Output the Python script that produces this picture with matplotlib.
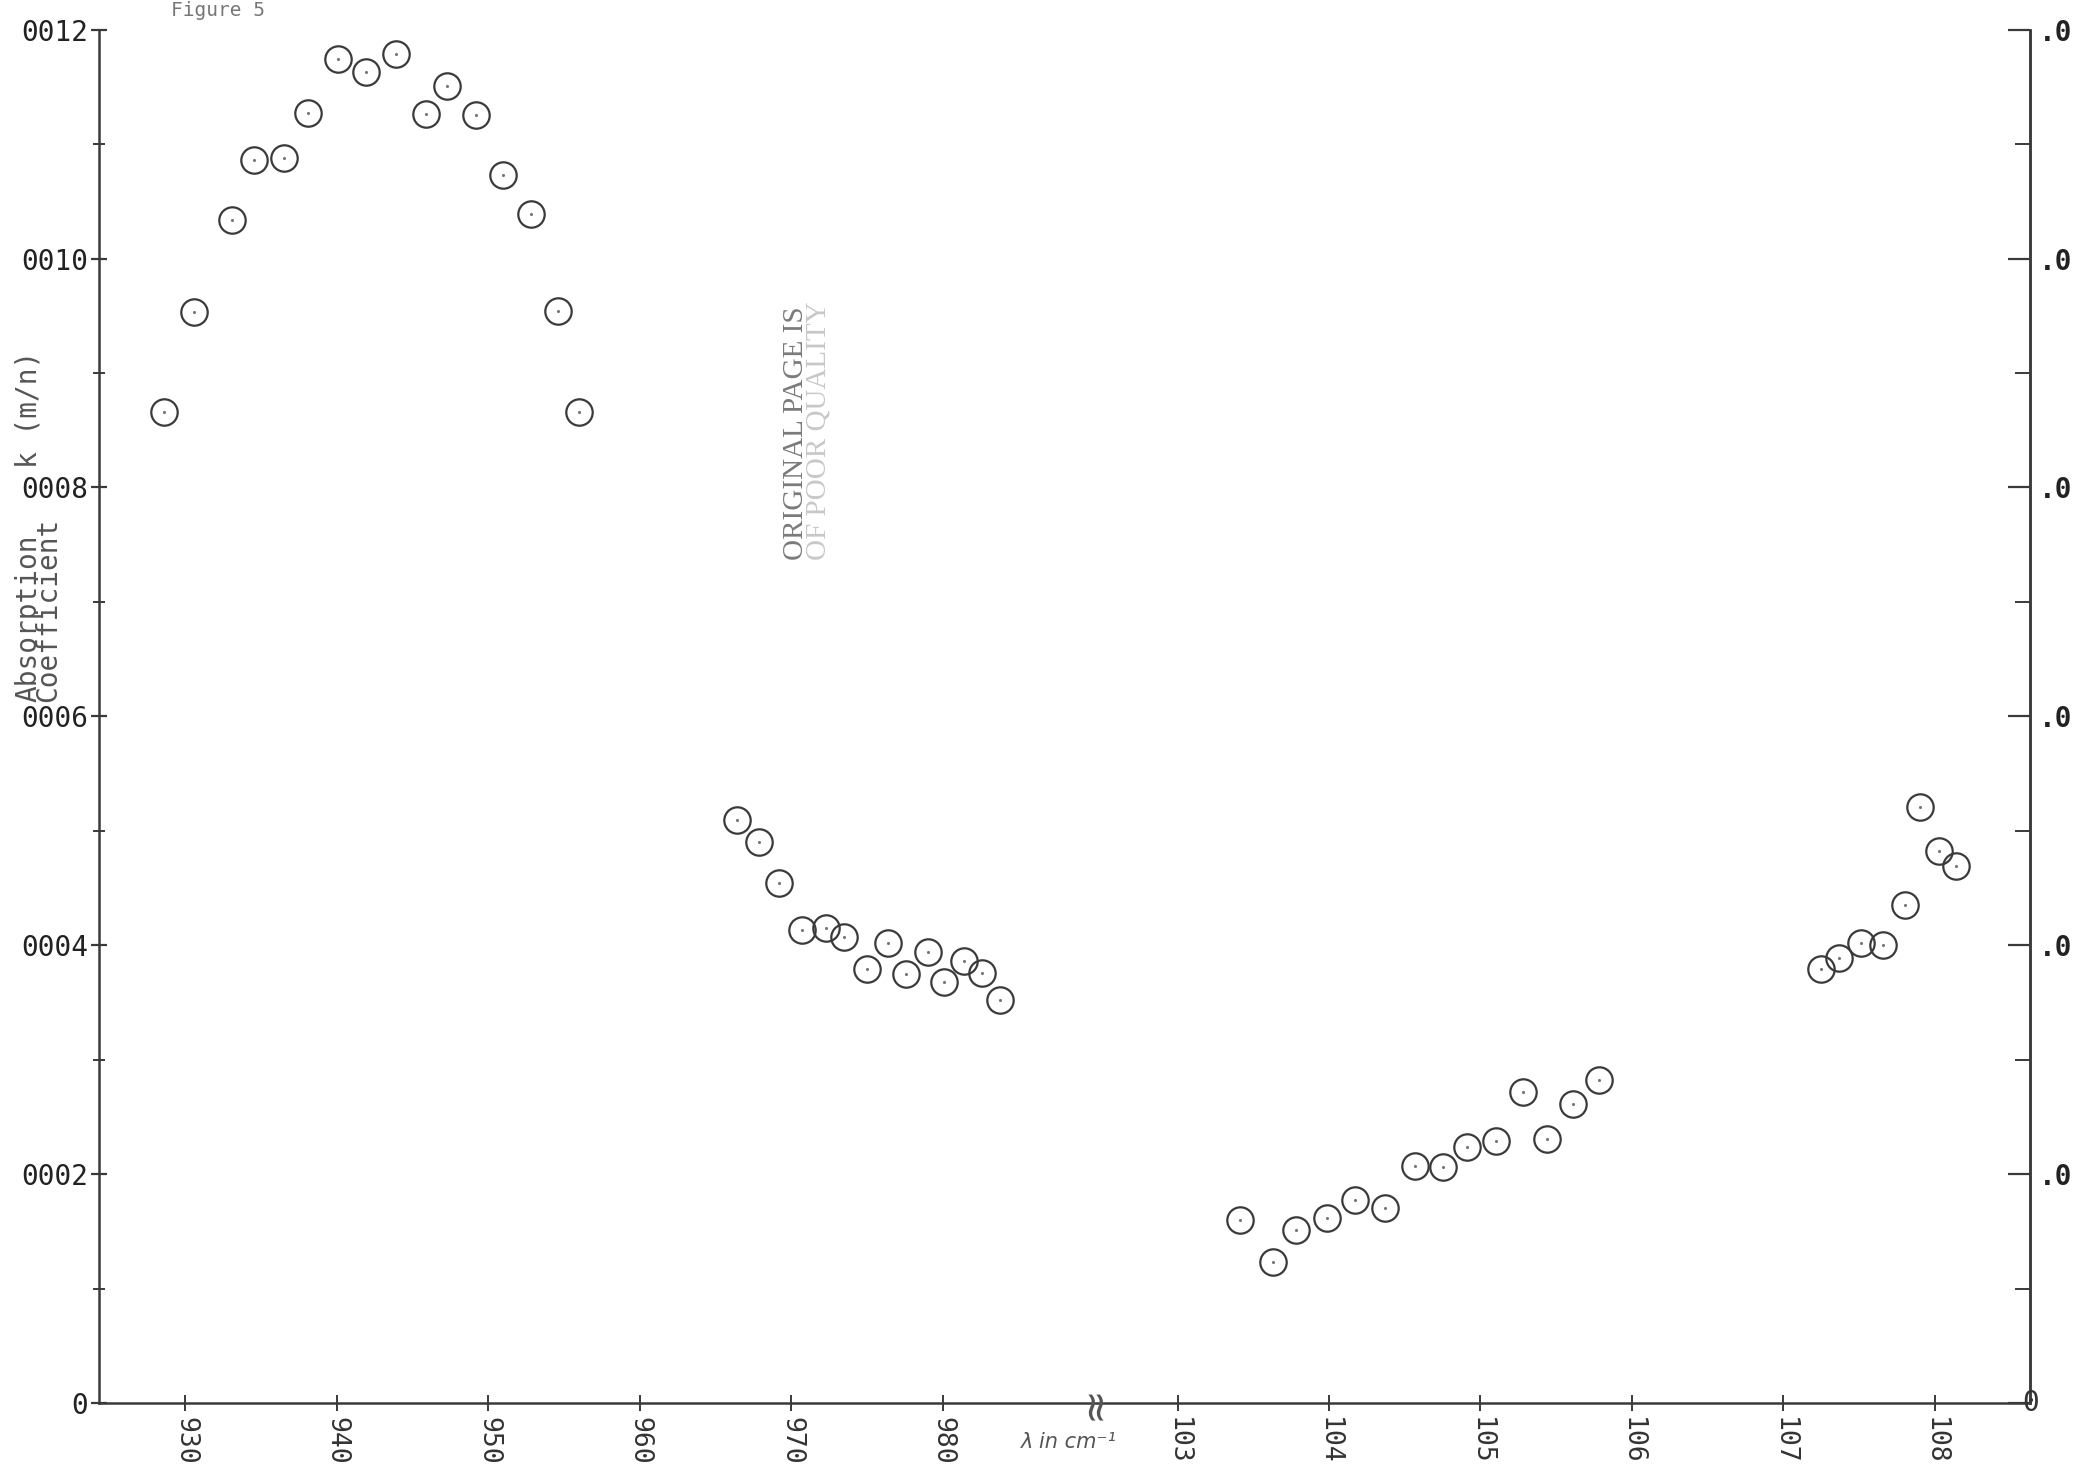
import numpy as np
import matplotlib
matplotlib.use('Agg')
import matplotlib.pyplot as plt

# Valores (numero de onda en cm^-1, coeficiente k)
onda = [928.6, 930.6, 933.1, 934.5, 936.5, 938.1, 940.1, 941.9, 943.9, 945.9,
        947.3, 949.2, 951.0, 952.8, 954.6, 956.0,
        966.4, 967.9, 969.2, 970.7, 972.3, 973.5, 975.0, 976.4, 977.6, 979.0,
        980.1, 981.4, 982.6, 983.8,
        1034.1, 1036.3, 1037.8, 1039.9, 1041.7, 1043.7, 1045.7, 1047.5, 1049.1,
        1051.0, 1052.8, 1054.4, 1056.1, 1057.8,
        1072.5, 1073.7, 1075.1, 1076.6, 1078.0, 1079.0, 1080.3, 1081.4]
coef = [0.000866, 0.000953, 0.001034, 0.001086, 0.001088, 0.001127, 0.001174,
        0.001163, 0.001179, 0.001126, 0.001151, 0.001125, 0.001073, 0.001039,
        0.000954, 0.000866,
        0.000509, 0.000490, 0.000454, 0.000413, 0.000415, 0.000407, 0.000379,
        0.000402, 0.000375, 0.000394, 0.000368, 0.000386, 0.000376, 0.000352,
        0.000160, 0.000123, 0.000151, 0.000162, 0.000177, 0.000170, 0.000207,
        0.000206, 0.000224, 0.000229, 0.000272, 0.000231, 0.000261, 0.000282,
        0.000379, 0.000389, 0.000402, 0.000400, 0.000435, 0.000521, 0.000482,
        0.000469]

xticks = [930, 940, 950, 960, 970, 980, 1030, 1040, 1050, 1060, 1070, 1080]
xlabels = ['930', '940', '950', '960', '970', '980',
           '103', '104', '105', '106', '107', '108']
yticks = [0, 0.0002, 0.0004, 0.0006, 0.0008, 0.0010, 0.0012]
ylabels = ['0', '0002', '0004', '0006', '0008', '0010', '0012']
ylabels_der = ['', '.0', '.0', '.0', '.0', '.0', '.0']

# eje x cortado entre 990 y 1025
def forward(x):
    x = np.asarray(x, dtype=float)
    return np.where(x <= 990, x,
                    np.where(x >= 1025, x - 34.5, 990 + (x - 990) * (0.5 / 35)))

def inverse(y):
    y = np.asarray(y, dtype=float)
    return np.where(y <= 990, y,
                    np.where(y >= 990.5, y + 34.5, 990 + (y - 990) * 70))

mono = 'DejaVu Sans Mono'
tinta = '#3a3a3a'

fig = plt.figure(figsize=(20.76, 14.82), dpi=100)
ax = fig.add_axes([0.0477, 0.0533, 0.9303, 0.9267])
ax.set_xscale('function', functions=(forward, inverse))
ax.set_xlim(924.3, 1086.3)
ax.set_ylim(0, 0.0012)

ax.plot(onda, coef, linestyle='none', marker='o', markersize=19,
        markerfacecolor='none', markeredgecolor=tinta, markeredgewidth=1.6)
ax.plot(onda, coef, linestyle='none', marker='.', markersize=2.5, color='#777777')

ax.spines['top'].set_visible(False)
for lado in ['left', 'bottom', 'right']:
    ax.spines[lado].set_color(tinta)
    ax.spines[lado].set_linewidth(1.8)

ax.set_xticks(xticks)
ax.set_xticklabels(xlabels, rotation=-90, fontfamily=mono, fontsize=19, color='#333333')
ax.xaxis.set_minor_locator(plt.NullLocator())
ax.tick_params(axis='x', direction='inout', length=12, width=1.4, color=tinta, pad=4)

ax.set_yticks(yticks)
ax.set_yticklabels(ylabels, fontfamily=mono, fontsize=20, color='#222222')
ax.set_yticks(np.arange(0.0001, 0.0012, 0.0002), minor=True)
ax.tick_params(axis='y', which='major', direction='inout', length=12, width=1.6,
               color=tinta, pad=2)
ax.tick_params(axis='y', which='minor', direction='inout', length=9, width=1.4,
               color=tinta)

ax2 = ax.twinx()
ax2.set_ylim(0, 0.0012)
ax2.set_yticks(yticks)
ax2.set_yticklabels(ylabels_der, fontfamily=mono, fontsize=20, fontweight='bold',
                    color='#222222')
ax2.set_yticks(np.arange(0.0001, 0.0012, 0.0002), minor=True)
ax2.tick_params(axis='y', which='major', direction='in', length=16, width=1.6,
                color=tinta, pad=6)
ax2.tick_params(axis='y', which='minor', direction='in', length=11, width=1.4,
                color=tinta)
for lado in ['top', 'left', 'bottom']:
    ax2.spines[lado].set_visible(False)
ax2.spines['right'].set_color(tinta)
ax2.spines['right'].set_linewidth(1.8)
ax2.text(1.0, 0.0, '0', transform=ax2.transAxes, ha='center', va='center',
         fontfamily=mono, fontsize=20, color='#333333')

# simbolo de corte del eje
ax.text(990.2, 0.0, '≈', transform=ax.get_xaxis_transform(), rotation=90,
        ha='center', va='center', fontsize=30, color='#555555')
fig.text(0.492, 0.027, 'λ in cm⁻¹', fontsize=15, style='italic', color='#555555',
         ha='left', va='center')

# titulo del eje y
fig.text(0.0185, 0.526, 'Absorption\nCoefficient', rotation=90, ha='center',
         va='bottom', multialignment='left', linespacing=0.62,
         fontfamily=mono, fontsize=20, color='#555555')
fig.text(0.0135, 0.684, 'k (m/n)', rotation=90, ha='center', va='bottom',
         fontfamily=mono, fontsize=20, color='#555555')

fig.text(0.105, 0.999, 'Figure 5', ha='center', va='top', fontfamily=mono,
         fontsize=14, color='#777777')

# sello del escaneo
fig.text(0.3835, 0.622, 'ORIGINAL PAGE IS', rotation=90, ha='center', va='bottom',
         fontfamily='Liberation Serif', fontsize=21, color='#7a7a7a')
fig.text(0.3945, 0.622, 'OF POOR QUALITY', rotation=90, ha='center', va='bottom',
         fontfamily='Liberation Serif', fontsize=21, color='#c8c8c8')

fig.savefig('out.png', dpi=100, facecolor='white')
